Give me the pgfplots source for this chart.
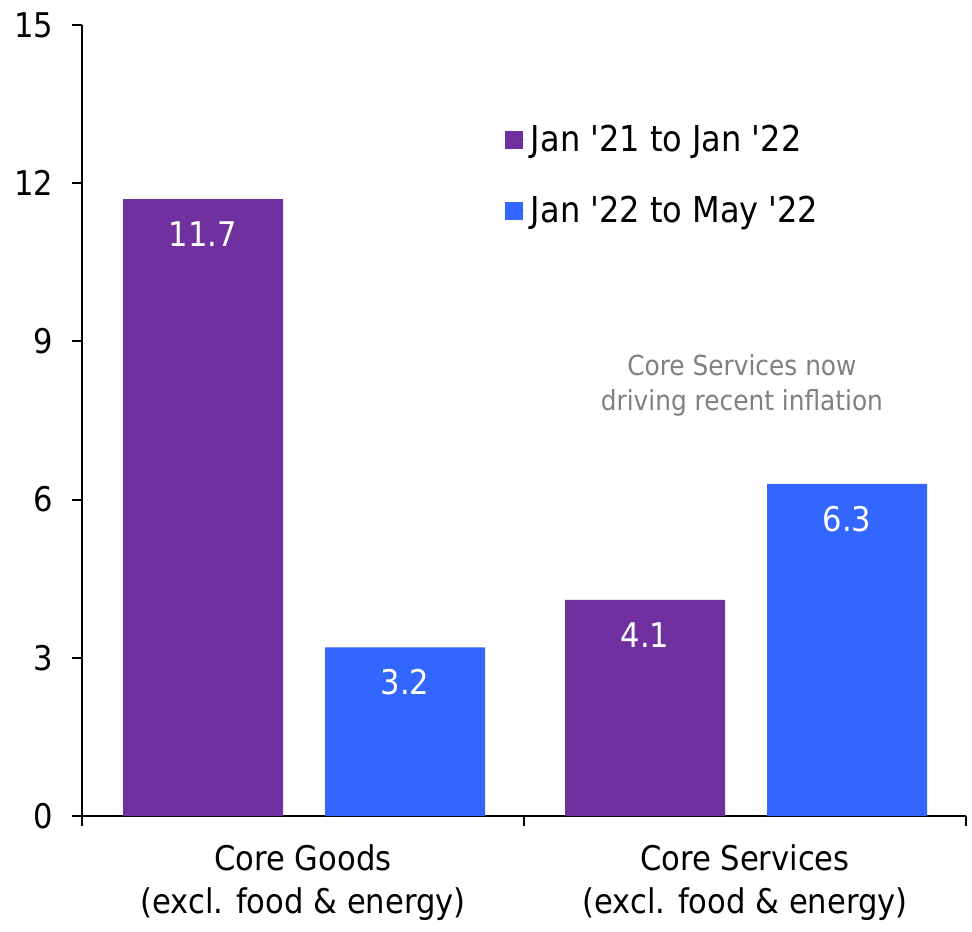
\documentclass[border=0pt]{standalone}
\usepackage{pgfplots}
\pgfplotsset{compat=1.18}
\usepackage{fontspec}
\setmainfont{DejaVu Sans Condensed}
\definecolor{cpurple}{HTML}{7030A0}
\definecolor{cblue}{HTML}{3366FF}
\definecolor{cgray}{HTML}{808080}
\begin{document}
\begin{tikzpicture}
\useasboundingbox (-41pt,-57.5pt) rectangle (445pt,408pt);
\begin{axis}[
  at={(0,0)}, anchor=south west,
  scale only axis, width=442pt, height=395.5pt,
  xmin=-0.5, xmax=1.5, ymin=0, ymax=15,
  axis x line*=bottom, axis y line*=left,
  axis line style={line width=1pt,-},
  /pgf/number format/assume math mode=true,
  ytick={0,3,6,9,12,15},
  xtick={-0.5,0.5,1.5}, xticklabels={},
  extra x ticks={0,1},
  extra x tick labels={{Core Goods\\(excl. food \& energy)},{Core Services\\(excl. food \& energy)}},
  extra x tick style={major tick length=0pt, tick style={draw=none}},
  tick align=outside, major tick length=5pt,
  tick style={line width=1pt, black},
  ticklabel style={font=\fontsize{17}{21.5}\selectfont},
  xticklabel style={align=center, yshift=-11pt},
  yticklabel style={xshift=-6pt},
  legend style={at={(rel axis cs:0.478,0.81)}, anchor=west, draw=none, fill=none,
    font=\fontsize{17.8}{21.5}\selectfont, row sep=17pt, cells={anchor=west}, inner sep=0pt},
  legend image code/.code={\fill[#1] (0pt,-4.5pt) rectangle (9pt,4.5pt); \path (0pt,0pt) -- (11pt,0pt);},
  nodes near coords={\pgfmathprintnumber[fixed,fixed zerofill,precision=1,assume math mode=true]{\pgfplotspointmeta}},
  every node near coord/.append style={white, font=\fontsize{17}{21.5}\selectfont, anchor=center, yshift=-17.5pt},
]
\addplot[ybar, bar width=80pt, bar shift=0pt, fill=cpurple, draw=none] coordinates {(-0.2262,11.7) (0.7738,4.1)};
\addlegendentry{Jan \textquotesingle 21 to Jan \textquotesingle 22}
\addplot[ybar, bar width=80pt, bar shift=0pt, fill=cblue, draw=none] coordinates {(0.2308,3.2) (1.2308,6.3)};
\addlegendentry{Jan \textquotesingle 22 to May \textquotesingle 22}
\node[cgray, align=center, font=\fontsize{13.8}{17.5}\selectfont] at (axis cs:0.993,8.17) {Core Services now\\driving recent inflation};
\end{axis}
\end{tikzpicture}
\end{document}
